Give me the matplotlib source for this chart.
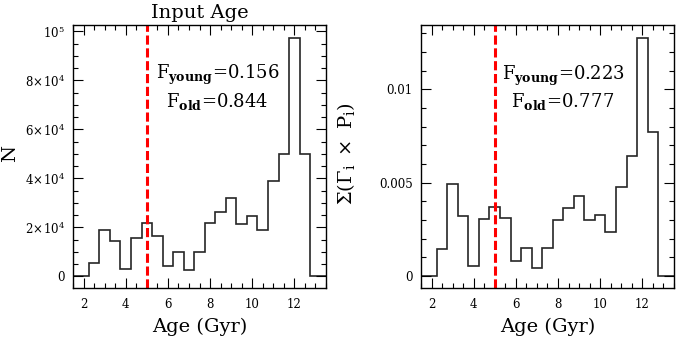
import numpy as np
import matplotlib
matplotlib.use("Agg")
import matplotlib.pyplot as plt
from matplotlib.ticker import MultipleLocator, FixedLocator

plt.rcParams['font.family'] = ['DejaVu Serif']
plt.rcParams['mathtext.fontset'] = 'dejavuserif'

# bin centres (Gyr), 0.5 Gyr wide
age_bins = np.arange(1.5, 14.0, 0.5)

# input age histogram (N)
n_input = [0, 0, 5300, 18900, 14400, 3100, 15800, 21600, 16600, 4200, 9700, 2700,
           10100, 21900, 26100, 32100, 21400, 24800, 18800, 38900, 49900, 97400,
           49900, 0, 0]

# recovered weighted distribution
sum_gp = [0, 0, 0.00144, 0.00492, 0.00321, 0.00053, 0.00303, 0.00371, 0.00312,
          0.00082, 0.0015, 0.00041, 0.0015, 0.0030, 0.00364, 0.00428, 0.0030,
          0.00326, 0.00237, 0.00478, 0.00645, 0.01276, 0.00772, 0, 0]

age_cut = 5.0
f_left = ("0.156", "0.844")
f_right = ("0.223", "0.777")

fig = plt.figure(figsize=(6.9, 3.61), dpi=100)
ax1 = fig.add_axes([0.1058, 0.2022, 0.3667, 0.7285])
ax2 = fig.add_axes([0.6101, 0.2022, 0.3667, 0.7285])

edges = np.append(age_bins - 0.25, age_bins[-1] + 0.25)


def style(ax):
    ax.set_xlim(1.5, 13.5)
    ax.xaxis.set_major_locator(MultipleLocator(2))
    ax.xaxis.set_minor_locator(MultipleLocator(0.5))
    ax.tick_params(which='both', direction='in', top=True, right=True,
                   labelsize=8.5, width=0.8)
    ax.tick_params(which='major', length=7)
    ax.tick_params(which='minor', length=3.5)
    ax.tick_params(axis='x', pad=7)
    ax.tick_params(axis='y', pad=6)
    for s in ax.spines.values():
        s.set_linewidth(1.0)
    ax.set_xlabel('Age (Gyr)', fontsize=14, labelpad=5)
    ax.axvline(age_cut, color='red', lw=2.2, dashes=(3, 1.2))


ax1.stairs(n_input, edges, color='0.15', lw=1.2)
style(ax1)
ax1.set_ylim(-4800, 102600)
ax1.yaxis.set_major_locator(FixedLocator([0, 20000, 40000, 60000, 80000, 100000]))
ax1.yaxis.set_minor_locator(MultipleLocator(5000))
ax1.set_yticklabels(['0', r'$2\!\times\!10^4$', r'$4\!\times\!10^4$',
                     r'$6\!\times\!10^4$', r'$8\!\times\!10^4$', r'$10^5$'])
ax1.set_ylabel('N', fontsize=14)
ax1.yaxis.set_label_coords(-0.212, 0.51)
ax1.set_title('Input Age', fontsize=14, pad=5)
ax1.text(8.35, 82200, r'F$_{\mathbf{young}}$=' + f_left[0], ha='center', va='center', fontsize=13)
ax1.text(8.35, 71500, r'F$_{\mathbf{old}}$=' + f_left[1], ha='center', va='center', fontsize=13)

ax2.stairs(sum_gp, edges, color='0.15', lw=1.2)
style(ax2)
ax2.set_ylim(-0.00064, 0.01344)
ax2.yaxis.set_major_locator(FixedLocator([0, 0.005, 0.01]))
ax2.yaxis.set_minor_locator(MultipleLocator(0.001))
ax2.set_yticklabels(['0', '0.005', '0.01'])
ax2.set_ylabel(r'$\Sigma(\Gamma_{\rm i}\ \times\ {\rm P_i})$', fontsize=14)
ax2.yaxis.set_label_coords(-0.253, 0.51)
ax2.text(8.24, 0.01071, r'F$_{\mathbf{young}}$=' + f_right[0], ha='center', va='center', fontsize=13)
ax2.text(8.24, 0.00934, r'F$_{\mathbf{old}}$=' + f_right[1], ha='center', va='center', fontsize=13)

fig.savefig('out.png', dpi=100)
